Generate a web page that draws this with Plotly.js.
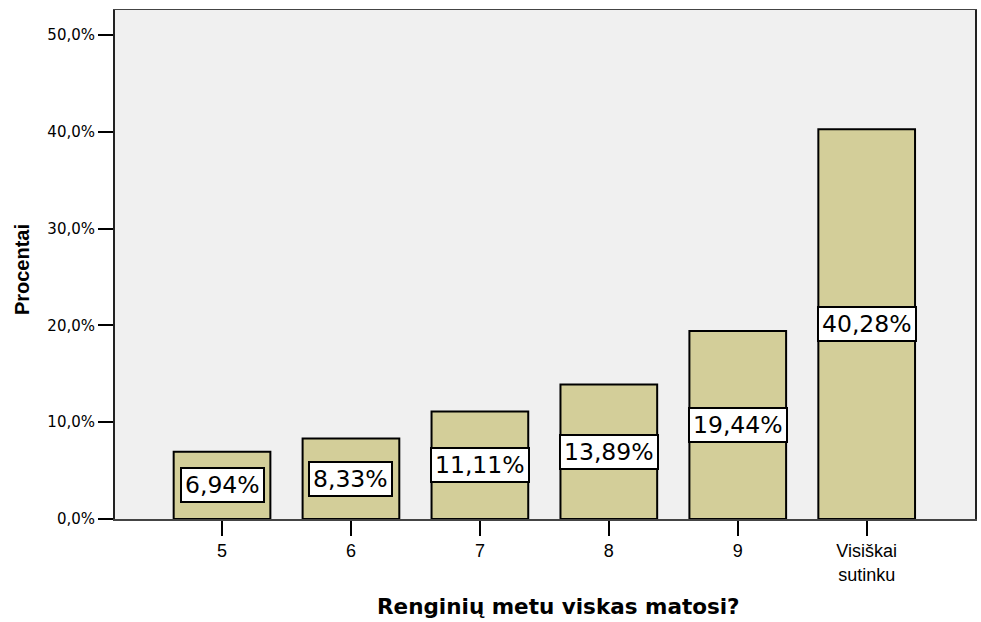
<!DOCTYPE html>
<html>
<head>
<meta charset="utf-8">
<script src="https://cdn.plot.ly/plotly-3.0.1.min.js"></script>
<style>html,body{margin:0;padding:0;background:#fff;}#chart{width:981px;height:622px;}</style>
</head>
<body>
<div id="chart"></div>
<script>
const categories = ["5", "6", "7", "8", "9", "Visiškai<br>sutinku"];
const values = [6.94, 8.33, 11.11, 13.89, 19.44, 40.28];
const labels = ["6,94%", "8,33%", "11,11%", "13,89%", "19,44%", "40,28%"];
const yTicks = [0, 10, 20, 30, 40, 50];

const trace = {
  type: 'bar',
  x: categories,
  y: values,
  marker: {color: '#d3ce99', line: {color: '#000', width: 2}},
  hoverinfo: 'skip'
};

const annotations = categories.map((c, i) => ({
  x: i, y: values[i] / 2, xref: 'x', yref: 'y',
  text: labels[i], showarrow: false,
  font: {family: 'DejaVu Sans, sans-serif', size: 23.5, color: '#000'},
  height: 26,
  bgcolor: '#fff', bordercolor: '#000', borderwidth: 2, borderpad: 3
}));

annotations.push({
  xref: 'paper', yref: 'paper', x: 0.516, y: 0, yshift: -87,
  xanchor: 'center', yanchor: 'middle', showarrow: false,
  text: '<b>Renginių metu viskas matosi?</b>',
  font: {family: 'DejaVu Sans, sans-serif', size: 21.5, color: '#000'}
});
annotations.push({
  xref: 'paper', yref: 'paper', x: 0, xshift: -93, y: 0.489,
  xanchor: 'center', yanchor: 'middle', showarrow: false, textangle: -90,
  text: '<b>Procentai</b>',
  font: {family: 'Liberation Sans Narrow, Liberation Sans, sans-serif', size: 20, color: '#000'}
});

const layout = {
  width: 981, height: 622,
  margin: {l: 115, r: 6, t: 10, b: 103},
  paper_bgcolor: '#fff', plot_bgcolor: '#f0f0f0',
  bargap: 0.25,
  showlegend: false,
  font: {family: 'Liberation Sans, Arial, sans-serif', color: '#000'},
  xaxis: {
    type: 'category',
    range: [-0.83, 5.84],
    showline: true, linecolor: '#444', linewidth: 1.5, mirror: true,
    ticks: 'outside', ticklen: 15, tickwidth: 2, tickcolor: '#000',
    tickfont: {family: 'Liberation Sans, Arial, sans-serif', size: 18},
    showgrid: false, zeroline: false
  },
  yaxis: {
    range: [0, 52.6],
    tickvals: yTicks,
    ticktext: yTicks.map(v => v.toFixed(1).replace('.', ',') + '%'),
    showline: true, linecolor: '#222', linewidth: 2, mirror: true,
    ticks: 'outside', ticklen: 15, tickwidth: 2, tickcolor: '#000',
    tickfont: {family: 'DejaVu Sans, sans-serif', size: 15},
    showgrid: false, zeroline: false
  },
  annotations: annotations
};

Plotly.newPlot('chart', [trace], layout, {displayModeBar: false, staticPlot: true});
</script>
</body>
</html>
